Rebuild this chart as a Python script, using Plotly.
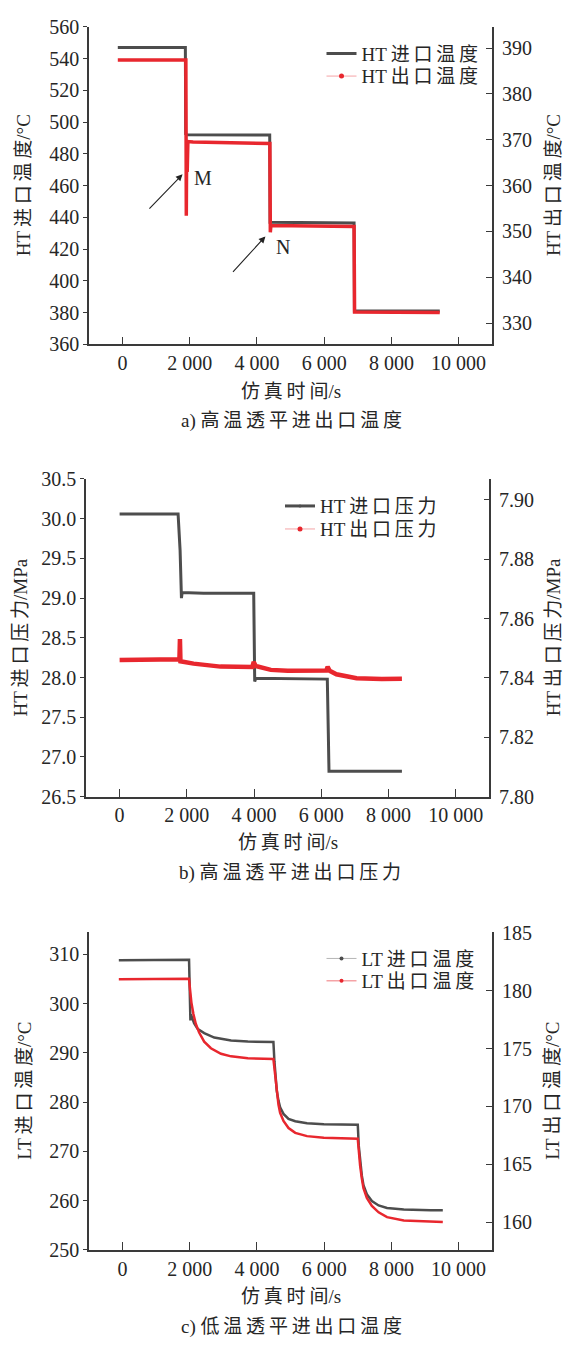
import plotly.graph_objects as go

# ---------------- data ----------------
# a) HT turbine inlet / outlet temperature
ht_t_in_time = [-140, 1870, 1880, 1920, 4380, 4390, 6890, 6900, 9440]
ht_t_in_val = [547.0, 547.0, 492.5, 492.0, 491.8, 437.0, 436.5, 381.0, 381.0]
ht_t_out_time = [-140, 1885, 1898, 1910, 1925, 1945, 2100, 4385, 4398, 4415, 6890, 6905, 9440]
ht_t_out_val = [387.4, 387.4, 353.4, 370.0, 363.0, 369.6, 369.5, 369.2, 349.8, 351.3, 351.1, 332.4, 332.3]

# b) HT turbine inlet / outlet pressure
ht_p_in_time = [0, 1740, 1800, 1840, 1860, 2500, 3990, 4000, 4020, 4050, 6180, 6210, 6230, 8400]
ht_p_in_val = [30.06, 30.06, 29.6, 29.0, 29.07, 29.06, 29.06, 28.5, 27.95, 27.99, 27.98, 27.3, 26.82, 26.82]
ht_p_out_time = [0, 900, 1780, 1795, 1810, 2200, 3000, 3950, 3990, 4050, 4500, 5000,
                 6150, 6190, 6250, 6450, 7050, 7800, 8400]
ht_p_out_val = [7.8460, 7.8461, 7.8463, 7.8531, 7.8456, 7.8448, 7.8438, 7.8437, 7.8454, 7.8440,
                7.8427, 7.8424, 7.8425, 7.8437, 7.8424, 7.8412, 7.8399, 7.8396, 7.8397]

# c) LT turbine inlet / outlet temperature
lt_t_in_time = [-110, 1980, 2020, 2035, 2080, 2130, 2230, 2430, 2730, 3230, 3730, 4490,
                4520, 4550, 4590, 4640, 4690, 4790, 4940, 5140, 5490, 5990, 7000,
                7030, 7070, 7120, 7170, 7270, 7420, 7620, 7870, 8370, 9170, 9530]
lt_t_in_val = [308.8, 308.9, 296.6, 297.8, 297.0, 296.0, 294.9, 294.0, 293.1, 292.5, 292.3, 292.2,
               288.3, 285.0, 282.3, 280.3, 278.95, 277.6, 276.6, 276.1, 275.7, 275.5, 275.4,
               271.1, 267.8, 265.1, 263.1, 261.3, 259.9, 259.0, 258.5, 258.2, 258.0, 258.0]
lt_t_out_time = [-110, 1980, 2010, 2050, 2110, 2180, 2280, 2430, 2630, 2930, 3230, 3730, 4490,
                 4520, 4550, 4590, 4640, 4690, 4790, 4940, 5140, 5490, 5990, 7000,
                 7030, 7070, 7120, 7170, 7270, 7420, 7620, 7870, 8370, 9170, 9530]
lt_t_out_val = [181.0, 181.04, 180.11, 178.98, 177.99, 177.15, 176.39, 175.60, 175.03, 174.55, 174.33,
                174.16, 174.10, 173.25, 172.27, 171.14, 170.16, 169.45, 168.75, 168.13, 167.71,
                167.43, 167.28, 167.2, 166.14, 164.88, 163.77, 162.93, 162.09, 161.39, 160.84,
                160.42, 160.14, 160.0, 160.0]

x_tickvals = [0, 2000, 4000, 6000, 8000, 10000]
x_ticktext = ["0", "2 000", "4 000", "6 000", "8 000", "10 000"]

# ---------------- style ----------------
FONT = "Liberation Serif, Times New Roman, Noto Sans CJK SC, serif"
INK = "#262626"
AXIS = "#3a3a3a"
GRAY = "#4d4d4d"
RED = "#e8272e"
PALE_RED = "#f5a3a6"
PALE_GRAY = "#b5b5b5"
FS = 20
W, H = 569, 1349
TS = "\u2009"


def spaced(s):
    """Insert thin spaces between CJK characters (wide-set Song-style typesetting)."""
    out = ""
    for i, ch in enumerate(s):
        out += ch
        if i + 1 < len(s):
            nxt = s[i + 1]
            if ord(ch) > 0x2E80 or ord(nxt) > 0x2E80:
                out += TS
    return out


def px_x(p):
    return p / W


def px_y(p):
    return 1 - p / H


fig = go.Figure()

# data traces
fig.add_trace(go.Scatter(x=ht_t_in_time, y=ht_t_in_val, xaxis="x", yaxis="y", mode="lines",
                         line=dict(color=GRAY, width=3), showlegend=False))
fig.add_trace(go.Scatter(x=ht_t_out_time, y=ht_t_out_val, xaxis="x", yaxis="y2", mode="lines",
                         line=dict(color=RED, width=3.5), showlegend=False))
fig.add_trace(go.Scatter(x=ht_p_in_time, y=ht_p_in_val, xaxis="x2", yaxis="y3", mode="lines",
                         line=dict(color=GRAY, width=3), showlegend=False))
fig.add_trace(go.Scatter(x=ht_p_out_time, y=ht_p_out_val, xaxis="x2", yaxis="y4", mode="lines",
                         line=dict(color=RED, width=4.5), showlegend=False))
fig.add_trace(go.Scatter(x=lt_t_in_time, y=lt_t_in_val, xaxis="x3", yaxis="y5", mode="lines",
                         line=dict(color=GRAY, width=2.5), showlegend=False))
fig.add_trace(go.Scatter(x=lt_t_out_time, y=lt_t_out_val, xaxis="x3", yaxis="y6", mode="lines",
                         line=dict(color=RED, width=2.5), showlegend=False))


# legend entries (line + symbol samples), one legend box per entry
def legend_cfg(x_px, mid_px):
    return dict(x=px_x(x_px), y=px_y(mid_px), xanchor="left", yanchor="middle",
                bgcolor="rgba(0,0,0,0)", borderwidth=0, tracegroupgap=0, itemwidth=30,
                font=dict(family=FONT, size=FS - 1, color=INK))


legend_specs = [
    # name, x-axis, y-axis, line colour, line width, marker colour, marker size, left px, row px
    ("HT进口温度", "x", "y", GRAY, 3, GRAY, 3, 321.5, 43.3),
    ("HT出口温度", "x", "y2", PALE_RED, 1, RED, 5, 321.5, 66.3),
    ("HT进口压力", "x2", "y3", GRAY, 3, GRAY, 3, 280.0, 503.3),
    ("HT出口压力", "x2", "y4", PALE_RED, 1, RED, 5, 280.0, 526.7),
    ("LT进口温度", "x3", "y5", PALE_GRAY, 1, GRAY, 4, 321.5, 963.3),
    ("LT出口温度", "x3", "y6", PALE_RED, 1.5, RED, 4, 321.5, 986.0),
]
legend_layout = {}
for i, (name, xa, ya, lc, lw, mc, ms, lx, ly) in enumerate(legend_specs):
    key = "legend" if i == 0 else f"legend{i + 1}"
    fig.add_trace(go.Scatter(x=[None], y=[None], xaxis=xa, yaxis=ya, mode="lines+markers",
                             name=spaced(name), legend=key,
                             line=dict(color=lc, width=lw),
                             marker=dict(color=mc, size=ms)))
    legend_layout[key] = legend_cfg(lx, ly)
fig.update_layout(**legend_layout)

# ---------------- axes ----------------
panels = {
    # name: (x0, x1, top, bottom) in pixels
    "a": (88.9, 492.2, 16.0, 339.0),
    "b": (86.0, 489.3, 475.7, 798.7),
    "c": (88.9, 492.2, 936.7, 1259.3),
}


def xaxis_cfg(p, anchor):
    x0, x1, top, bot = panels[p]
    return dict(domain=[px_x(x0), px_x(x1)], anchor=anchor, range=[-1000, 11000],
                tickmode="array", tickvals=x_tickvals, ticktext=x_ticktext,
                ticks="inside", ticklen=8, tickwidth=1.3, tickcolor=AXIS,
                showline=True, linecolor=AXIS, linewidth=1.5, showgrid=False, zeroline=False,
                tickfont=dict(family=FONT, size=FS, color=INK))


def yleft_cfg(p, anchor, rng, dtick, fmt):
    x0, x1, top, bot = panels[p]
    return dict(domain=[px_y(bot), px_y(top)], anchor=anchor, range=rng, dtick=dtick,
                tick0=rng[0], tickformat=fmt,
                ticks="outside", ticklen=4, tickwidth=1.3, tickcolor=AXIS,
                showline=True, linecolor=AXIS, linewidth=1.5, showgrid=False, zeroline=False,
                tickfont=dict(family=FONT, size=FS, color=INK))


def yright_cfg(over, anchor, rng, tick0, dtick, fmt):
    return dict(overlaying=over, side="right", anchor=anchor, range=rng, tick0=tick0, dtick=dtick,
                tickformat=fmt, ticks="inside", ticklen=6, tickwidth=1.3, tickcolor=AXIS,
                ticklabelstandoff=4,
                showline=True, linecolor=AXIS, linewidth=1.5, showgrid=False, zeroline=False,
                tickfont=dict(family=FONT, size=FS, color=INK))


fig.update_layout(
    xaxis=xaxis_cfg("a", "y"),
    yaxis=yleft_cfg("a", "x", [360, 560], 20, "d"),
    yaxis2=yright_cfg("y", "x", [325.34, 394.66], 330, 10, "d"),
    xaxis2=xaxis_cfg("b", "y3"),
    yaxis3=yleft_cfg("b", "x2", [26.5, 30.5], 0.5, ".1f"),
    yaxis4=yright_cfg("y3", "x2", [7.80, 7.907], 7.80, 0.02, ".2f"),
    xaxis3=xaxis_cfg("c", "y5"),
    yaxis5=yleft_cfg("c", "x3", [250, 314.46], 10, "d"),
    yaxis6=yright_cfg("y5", "x3", [157.6, 185.05], 160, 5, "d"),
)

# ---------------- texts ----------------
ann = []


def text(s, x_px, y_px, angle=0, size=FS - 1):
    ann.append(dict(text=s, x=px_x(x_px), y=px_y(y_px), xref="paper", yref="paper",
                    showarrow=False, textangle=angle, xanchor="center", yanchor="middle",
                    font=dict(family=FONT, size=size, color=INK)))


# axis titles
text(spaced("HT进口温度") + "/°C", 23.6, 177.5, -90)
text(spaced("HT出口温度") + "/°C", 553.5, 177.5, -90)
text(spaced("仿真时间") + "/s", 290.5, 387)
text("a) " + spaced("高温透平进出口温度"), 291, 417)

text(spaced("HT进口压力") + "/MPa", 20.7, 637.2, -90)
text(spaced("HT出口压力") + "/MPa", 553.5, 637.2, -90)
text(spaced("仿真时间") + "/s", 287.6, 845)
text("b) " + spaced("高温透平进出口压力"), 289.5, 876.7)

text(spaced("LT进口温度") + "/°C", 23.6, 1098, -90)
text(spaced("LT出口温度") + "/°C", 551.7, 1098, -90)
text(spaced("仿真时间") + "/s", 290.5, 1306.7)
text("c) " + spaced("低温透平进出口温度"), 291, 1338.3)

# M / N markers on panel a
for (hx, hy, tx, ty) in [(1786, 467.1, 757, 444.6), (4252, 428.0, 3247, 404.8)]:
    ann.append(dict(x=hx, y=hy, ax=tx, ay=ty, xref="x", yref="y", axref="x", ayref="y",
                    text="", showarrow=True, arrowhead=2, arrowsize=1.2, arrowwidth=1.1,
                    arrowcolor="#222222"))
for (lbl, lx, ly) in [("M", 2397, 464.6), ("N", 4762, 421.3)]:
    ann.append(dict(x=lx, y=ly, xref="x", yref="y", text=lbl, showarrow=False,
                    font=dict(family=FONT, size=20, color=INK)))

fig.update_layout(
    annotations=ann,
    width=W, height=H, autosize=False,
    margin=dict(l=0, r=0, t=0, b=0),
    paper_bgcolor="white", plot_bgcolor="rgba(0,0,0,0)",
    font=dict(family=FONT, size=FS, color=INK),
)

fig.write_html("out.html")
